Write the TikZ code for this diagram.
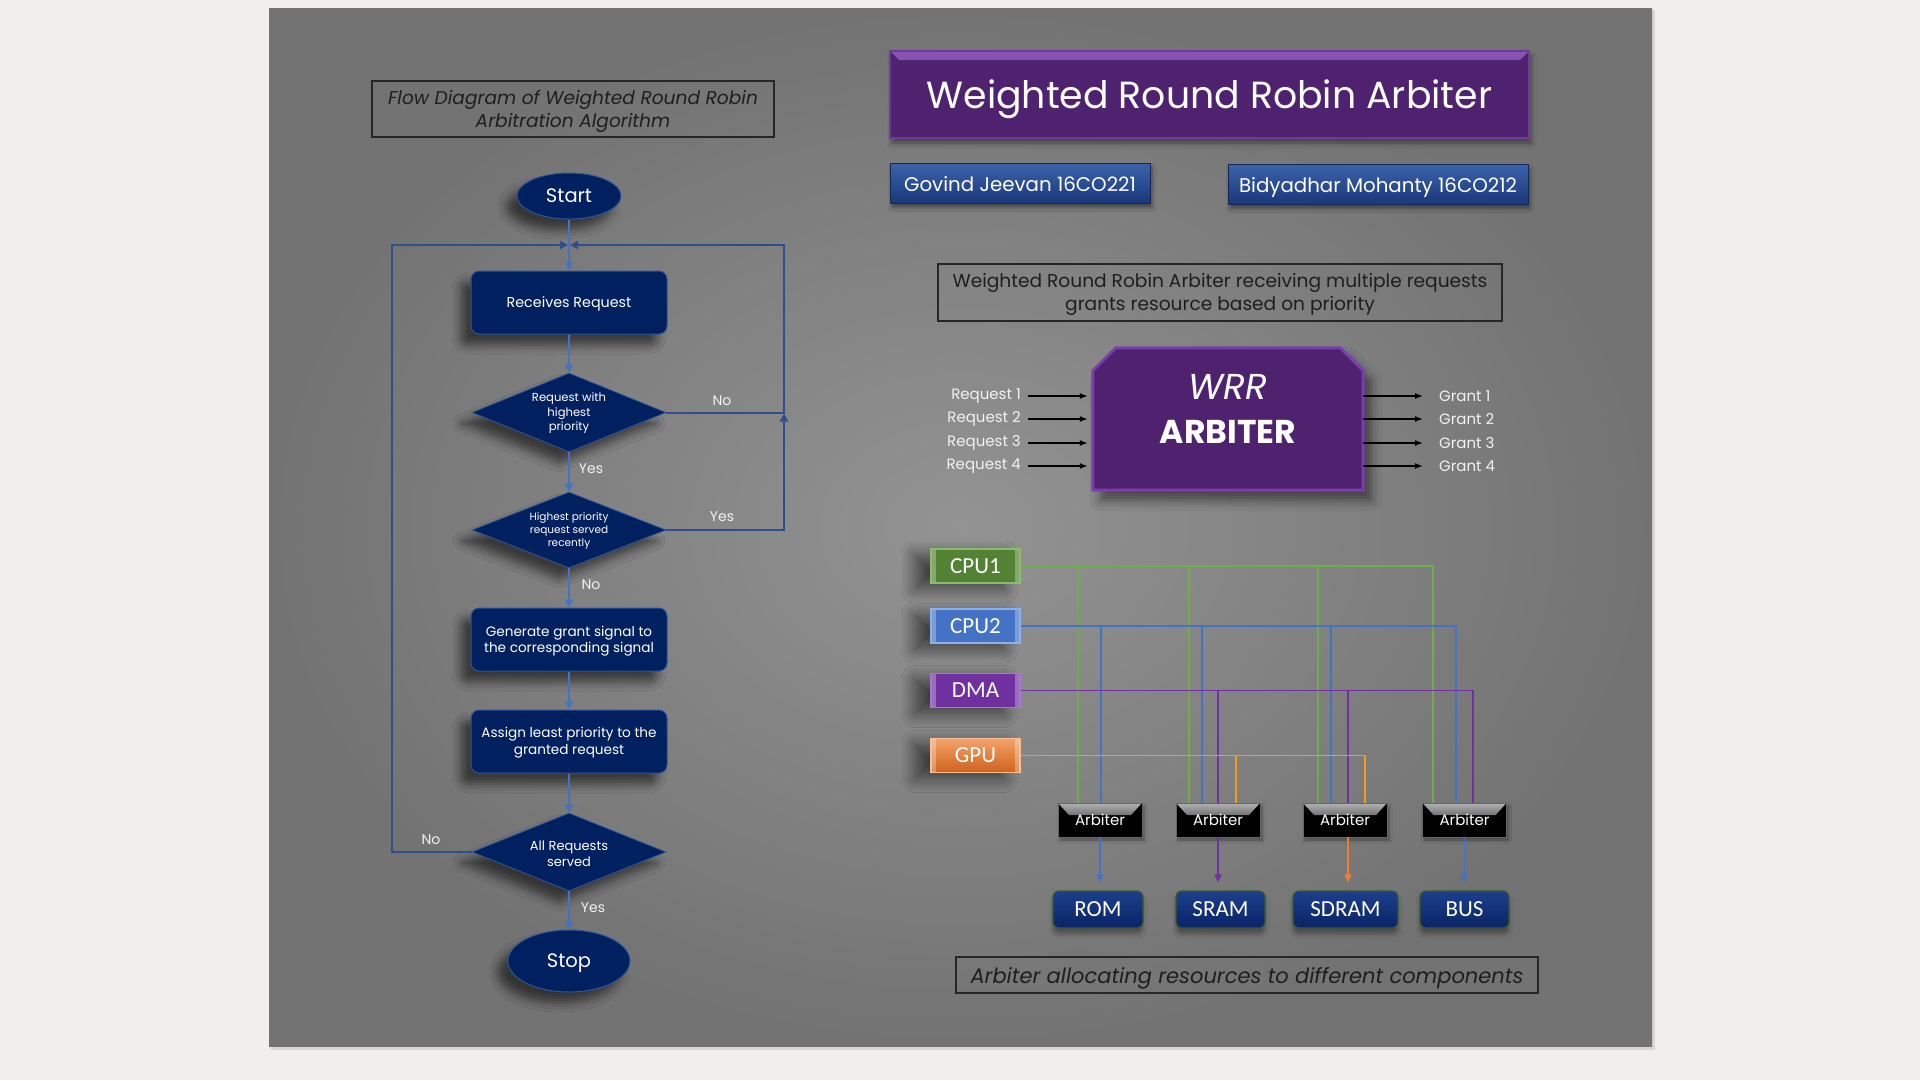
\documentclass[tikz,border=0pt]{standalone}
\usepackage{fontspec}
\setmainfont{Poppins}
\newfontfamily\carl{Carlito}
\usetikzlibrary{shapes.geometric,shapes.misc,arrows.meta,shadows.blur,calc}
\newcommand\fsz[2]{\fontsize{#1}{#2}\selectfont}
\definecolor{pagebg}{HTML}{F0EFED}
\definecolor{slidein}{HTML}{939393}
\definecolor{slideout}{HTML}{737373}
\definecolor{navy}{HTML}{002060}
\definecolor{navyedge}{HTML}{2F5597}
\definecolor{flowline}{HTML}{4472C4}
\definecolor{loopline}{HTML}{2E4E8E}
\definecolor{lbltext}{HTML}{F2F2F2}
\definecolor{capt}{HTML}{1E1E1E}
\definecolor{purp}{HTML}{4F2270}
\definecolor{purpL}{HTML}{8A55B5}
\definecolor{purpedge}{HTML}{6E3C98}
\definecolor{wrredge}{HTML}{7A3CAE}
\definecolor{nametop}{HTML}{3B62AA}
\definecolor{namebot}{HTML}{1A377A}
\definecolor{cgreen}{HTML}{548235}
\definecolor{cgreenE}{HTML}{8DBA6C}
\definecolor{cblue}{HTML}{4472C4}
\definecolor{cblueE}{HTML}{8EB0EA}
\definecolor{cpurp}{HTML}{7030A0}
\definecolor{cpurpE}{HTML}{A878D0}
\definecolor{corgT}{HTML}{F4A26A}
\definecolor{corgB}{HTML}{CF621C}
\definecolor{corgE}{HTML}{F8C09A}
\definecolor{wg}{HTML}{70AD47}
\definecolor{wb}{HTML}{4472C4}
\definecolor{wp}{HTML}{7030A0}
\definecolor{wo}{HTML}{F29B1D}
\definecolor{ao}{HTML}{ED7D31}
\definecolor{restop}{HTML}{1C3F8C}
\definecolor{resbot}{HTML}{0A2466}
\definecolor{resedge}{HTML}{3B5A2E}
\tikzset{
  fshadow/.style={blur shadow={shadow xshift=-10pt, shadow yshift=-11pt, shadow blur radius=9pt, shadow opacity=55}},
  flowbox/.style={rectangle, rounded corners=8pt, fill=navy, draw=navyedge, line width=1pt,
    minimum width=196pt, minimum height=63pt, text=white, align=center, inner sep=2pt, fshadow},
  flowdia/.style={diamond, fill=navy, draw=navyedge, line width=0.8pt, minimum width=194pt,
    minimum height=79pt, inner sep=0pt, fshadow},
  dlab/.style={text=white, align=center, inner sep=0pt},
  flowell/.style={ellipse, fill=navy, draw=navyedge, line width=1pt, inner sep=0pt, text=white,
    font=\fsz{19.5}{22}, text depth=0pt, fshadow},
  fl/.style={draw=flowline, line width=2pt, -{Triangle[length=8pt,width=8pt]}},
  ll/.style={draw=loopline, line width=2pt, -{Triangle[length=8pt,width=8pt]}},
  lbl/.style={text=lbltext, font=\fsz{14}{16}, inner sep=0pt},
  capbox/.style={rectangle, draw=black!85, line width=1.5pt, text=capt, align=center, inner sep=0pt},
  captext/.style={text=capt, align=center, inner sep=0pt, yshift=-2pt},
  titlebox/.style={rectangle, fill=purp, draw=purpedge, line width=1.5pt, minimum width=639pt,
    minimum height=87pt, text=white, font=\fsz{37.8}{42}, text depth=0pt,
    blur shadow={shadow xshift=2pt, shadow yshift=-5pt, shadow blur radius=5pt, shadow opacity=45},
    path picture={\shade[top color=purpL, bottom color=purp]
      (path picture bounding box.north west) -- (path picture bounding box.north east)
      -- ([xshift=-9pt,yshift=-9pt]path picture bounding box.north east)
      -- ([xshift=9pt,yshift=-9pt]path picture bounding box.north west) -- cycle;}},
  namebox/.style={rectangle, top color=nametop, bottom color=namebot, draw=namebot!70!black,
    line width=1pt, minimum height=40pt, text=white, font=\fsz{19.8}{23}, text depth=0pt,
    blur shadow={shadow xshift=2pt, shadow yshift=-4pt, shadow blur radius=4pt, shadow opacity=45}},
  wrrshape/.style={fill=purp, draw=wrredge, line width=3pt, line join=miter,
    blur shadow={shadow xshift=8pt, shadow yshift=-10pt, shadow blur radius=10pt, shadow opacity=50}},
  wrrtext/.style={text=white, inner sep=0pt, text depth=0pt},
  rq/.style={text=lbltext, font=\fsz{15}{18}, inner sep=0pt},
  ra/.style={draw=black, line width=1.5pt, -{Latex[length=8pt,width=6pt]}},
  cpubox/.style={rectangle, minimum width=89pt, minimum height=34pt, text=white, inner sep=0pt,
    font=\carl\fsz{23}{26}, text depth=0pt, line width=1.5pt,
    blur shadow={shadow xshift=-16pt, shadow yshift=-6pt, shadow blur radius=14pt,
      shadow blur steps=12, shadow opacity=55},
    path picture={\fill[white,opacity=.3] (path picture bounding box.north west) rectangle
      ([xshift=5pt]path picture bounding box.south west);
      \fill[white,opacity=.3] (path picture bounding box.north east) rectangle
      ([xshift=-5pt]path picture bounding box.south east);}},
  arbbox/.style={rectangle, fill=black, draw=black!60, line width=0.8pt, minimum width=84pt,
    minimum height=34pt, inner sep=0pt, text=white, font=\fsz{15}{18}, text depth=0pt,
    blur shadow={shadow xshift=2pt, shadow yshift=-3pt, shadow blur radius=3pt, shadow opacity=40},
    path picture={\shade[top color=black!30, bottom color=black]
      (path picture bounding box.north west) -- (path picture bounding box.north east)
      -- ([xshift=-11pt,yshift=-12pt]path picture bounding box.north east)
      -- ([xshift=11pt,yshift=-12pt]path picture bounding box.north west) -- cycle;}},
  resbox/.style={rectangle, rounded corners=6pt, top color=restop, bottom color=resbot,
    draw=resedge, line width=1.2pt, minimum height=37pt, inner sep=0pt, text=white,
    font=\carl\fsz{23}{26}, text depth=0pt,
    blur shadow={shadow xshift=0pt, shadow yshift=-6pt, shadow blur radius=4pt, shadow opacity=35}},
  wire/.style={line width=1.6pt},
  oa/.style={line width=1.6pt, shorten >=8pt, -{Triangle[length=8pt,width=7pt]}},
}
\begin{document}
\begin{tikzpicture}[x=1pt,y=-1pt]
\useasboundingbox (0,0) rectangle (1920,1080);
\fill[pagebg] (0,0) rectangle (1920,1080);
\fill[black,opacity=.10] (271,10) rectangle (1655,1050);
\shade[inner color=slidein, outer color=slideout] (269,8) rectangle (1652,1046);

% ---------------- flow diagram ----------------
\node[capbox, minimum width=402pt, minimum height=56pt,
  label={[captext, font=\itshape\fsz{18.6}{23}]center:{Flow Diagram of Weighted Round Robin\\Arbitration Algorithm}}] (fcap) at (573,109) {};

\node[flowell, minimum width=104pt, minimum height=46pt] (start) at (569,196) {Start};
\node[flowbox, font=\fsz{14.3}{17}, text depth=0pt] (recv) at (569,302.5) {Receives Request};
\node[flowdia, label={[dlab, font=\fsz{11.6}{14.5}, yshift=-1pt]center:{Request with\\highest\\priority}}] (d1) at (569,412.5) {};
\node[flowdia, minimum height=76pt, label={[dlab, font=\fsz{10.5}{13}, yshift=-1pt]center:{Highest priority\\request served\\recently}}] (d2) at (569,530) {};
\node[flowbox, font=\fsz{13.6}{16}, label={[dlab, font=\fsz{13.6}{16}, yshift=-1.5pt]center:{Generate grant signal to\\the corresponding signal}}] (gen) at (569,639.5) {};
\node[flowbox, font=\fsz{13.6}{17}, label={[dlab, font=\fsz{13.6}{17}, yshift=-1.5pt]center:{Assign least priority to the\\granted request}}] (asg) at (569,741.5) {};
\node[flowdia, minimum height=78pt, label={[dlab, font=\fsz{13}{16}, yshift=-1.5pt]center:{All Requests\\served}}] (d3) at (569,852) {};
\node[flowell, minimum width=122pt, minimum height=62pt] (stop) at (569,961) {Stop};

\coordinate (m) at (569,245);
\coordinate (rt) at (784,245);
\coordinate (lt) at (392,245);

\draw[fl] (start) -- (recv);
\draw[fl] (recv) -- (d1);
\draw[fl] (d1) -- (d2);
\draw[fl] (d2) -- (gen);
\draw[fl] (gen) -- (asg);
\draw[fl] (asg) -- (d3);
\draw[fl] (d3) -- (stop);
\draw[ll, shorten >=1pt] (d1.east) -- (d1.east -| rt) -- (rt) -- (m);
\draw[ll, shorten >=1pt] (d2.east) -- (d2.east -| rt) -- (d1.east -| rt);
\draw[ll, shorten >=1pt] (d3.west) -- (d3.west -| lt) -- (lt) -- (m);

\node[lbl] (no1) at (722,401) {No};
\node[lbl] (yes1) at (591,469) {Yes};
\node[lbl] (yes2) at (722,517) {Yes};
\node[lbl] (no2) at (591,585) {No};
\node[lbl] (no3) at (431,840) {No};
\node[lbl] (yes3) at (593,908) {Yes};

% ---------------- right side ----------------
\node[titlebox] (title) at (1209.5,94.5) {Weighted Round Robin Arbiter};
\node[namebox, minimum width=260pt] (gj) at (1020,183.5) {Govind Jeevan 16CO221};
\node[namebox, minimum width=300pt] (bm) at (1378,184.5) {Bidyadhar Mohanty 16CO212};
\node[capbox, minimum width=564pt, minimum height=57pt,
  label={[captext, font=\fsz{18.6}{23}]center:{Weighted Round Robin Arbiter receiving multiple requests\\grants resource based on priority}}] (cap2) at (1220,292.5) {};

\node[minimum width=270pt, minimum height=142pt, inner sep=0pt] (wrr) at (1228,419) {};
\filldraw[wrrshape] (wrr.south west) -- ([yshift=-23pt]wrr.north west) -- ([xshift=23pt]wrr.north west)
  -- ([xshift=-23pt]wrr.north east) -- ([yshift=-23pt]wrr.north east) -- (wrr.south east) -- cycle;
\node[wrrtext, font=\itshape\fsz{36}{40}] (wrr1) at ([yshift=32pt]wrr.center) {WRR};
\node[wrrtext, font=\bfseries\fsz{33}{38}] (wrr2) at ([yshift=-13pt]wrr.center) {ARBITER};

\foreach \i/\yy in {1/396,2/419,3/443,4/466}{
  \node[rq, anchor=east] (rq\i) at (1021,\yy) {Request \i};
  \node[rq, anchor=west] (gr\i) at (1439,\yy) {Grant \i};
  \draw[ra, shorten >=5pt] ([xshift=7pt]rq\i.east) -- (rq\i.east -| wrr.west);
  \draw[ra] (gr\i.west -| wrr.east) -- ([xshift=-16pt]gr\i.west);
}

% processors
\node[cpubox, fill=cgreen, draw=cgreenE] (cpu1) at (975.5,566) {CPU1};
\node[cpubox, fill=cblue, draw=cblueE] (cpu2) at (975.5,626) {CPU2};
\node[cpubox, fill=cpurp, draw=cpurpE] (dma) at (975.5,690.5) {DMA};
\node[cpubox, top color=corgT, bottom color=corgB, draw=corgE] (gpu) at (975.5,755.5) {GPU};

% drop points on arbiter tops
\coordinate (g1) at (1078,803);
\coordinate (b1) at (1101,803);
\coordinate (g2) at (1189,803);
\coordinate (b2) at (1202,803);
\coordinate (p2) at (1218,803);
\coordinate (o2) at (1236,803);
\coordinate (g3) at (1318,803);
\coordinate (b3) at (1331,803);
\coordinate (p3) at (1348,803);
\coordinate (o3) at (1365,803);
\coordinate (g4) at (1433,803);
\coordinate (b4) at (1456,803);
\coordinate (p4) at (1473,803);

\draw[wire, wg] (cpu1.east) -| (g4);
\draw[wire, wg] (g1 |- cpu1.east) -- (g1);
\draw[wire, wg] (g2 |- cpu1.east) -- (g2);
\draw[wire, wg] (g3 |- cpu1.east) -- (g3);
\draw[wire, wb] (cpu2.east) -| (b4);
\draw[wire, wb] (b1 |- cpu2.east) -- (b1);
\draw[wire, wb] (b2 |- cpu2.east) -- (b2);
\draw[wire, wb] (b3 |- cpu2.east) -- (b3);
\draw[wire, wp] (dma.east) -| (p4);
\draw[wire, wp] (p2 |- dma.east) -- (p2);
\draw[wire, wp] (p3 |- dma.east) -- (p3);
\draw[wire, wo] (gpu.east) -| (o3);
\draw[wire, wo] (o2 |- gpu.east) -- (o2);

% arbiters and resources
\node[arbbox] (a1) at (1100,820) {Arbiter};
\node[arbbox] (a2) at (1218,820) {Arbiter};
\node[arbbox] (a3) at (1345,820) {Arbiter};
\node[arbbox] (a4) at (1464.5,820) {Arbiter};

\node[resbox, minimum width=90pt] (rom) at (1098,909.5) {ROM};
\node[resbox, minimum width=89pt] (sram) at (1220.5,909.5) {SRAM};
\node[resbox, minimum width=105pt] (sdram) at (1345.5,909.5) {SDRAM};
\node[resbox, minimum width=89pt] (bus) at (1464.5,909.5) {BUS};

\draw[oa, wb] (a1.south) -- (a1.south |- rom.north);
\draw[oa, wp] (a2.south) -- (a2.south |- sram.north);
\draw[oa, ao] ([xshift=3pt]a3.south) -- ([xshift=3pt]a3.south |- sdram.north);
\draw[oa, wb] (a4.south) -- (a4.south |- bus.north);

\node[capbox, minimum width=582pt, minimum height=36pt, text depth=0pt, font=\itshape\fsz{21}{24}] (cap3) at (1247,975)
  {Arbiter allocating resources to different components};
\end{tikzpicture}
\end{document}
